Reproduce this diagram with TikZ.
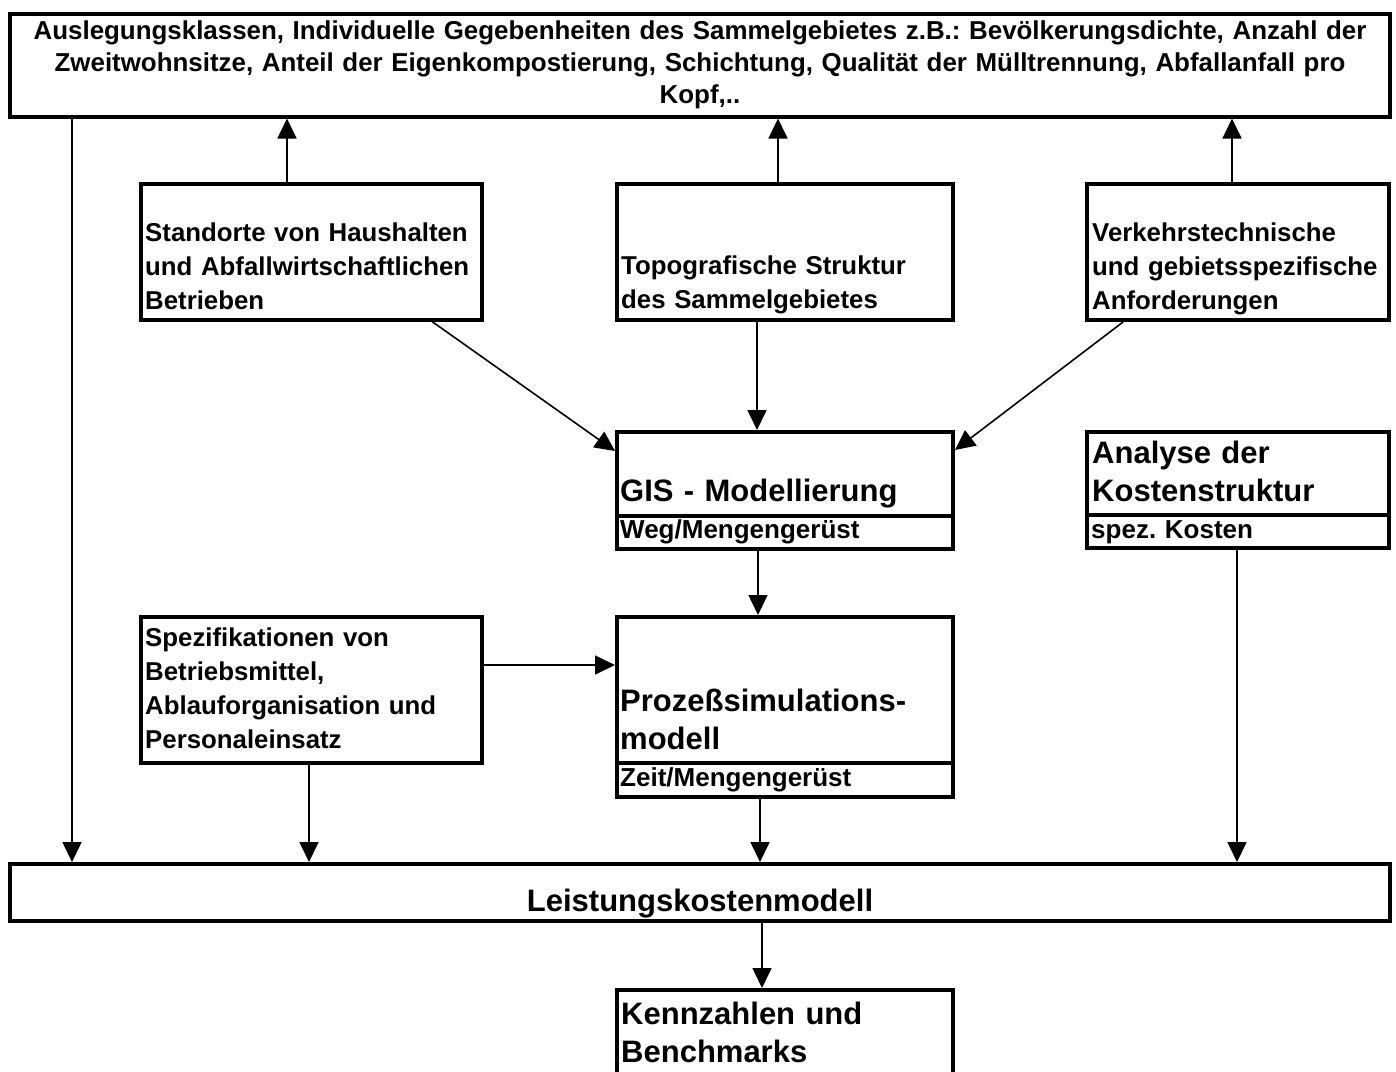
\documentclass[tikz,border=0pt]{standalone}
\usepackage{fontspec}
\setmainfont{Liberation Sans}
\usetikzlibrary{arrows.meta}
\frenchspacing
\begin{document}
\begin{tikzpicture}[x=1pt,y=-1pt,
  box/.style={draw, line width=4pt, inner sep=0pt, rectangle},
  divider/.style={line width=4pt},
  arr/.style={line width=1.6pt, -{Triangle[length=20pt,width=19pt]}},
  txt/.style={inner sep=0pt, anchor=base west, align=left, text width=#1},
  normal/.style={font=\fontsize{25.8}{34}\selectfont\bfseries},
  big/.style={font=\fontsize{31}{38}\selectfont\bfseries},
  small/.style={font=\fontsize{26}{30}\selectfont\bfseries}
]
\clip (0,0) rectangle (1396,1071);
\fill[white] (0,0) rectangle (1396,1071);

% boxes
\node[box, minimum width=1380.5pt, minimum height=102.5pt] (T) at (699.75,65.25) {};
\node[box, minimum width=341pt, minimum height=135.5pt] (A) at (311,251.75) {};
\node[box, minimum width=336pt, minimum height=136pt] (B) at (785,252) {};
\node[box, minimum width=302pt, minimum height=136pt] (C) at (1238,252) {};
\node[box, minimum width=336pt, minimum height=117pt] (G) at (785,490.5) {};
\node[box, minimum width=302pt, minimum height=116pt] (K) at (1238,490) {};
\node[box, minimum width=341pt, minimum height=146pt] (S) at (311,690) {};
\node[box, minimum width=336pt, minimum height=180pt] (P) at (785,707) {};
\node[box, minimum width=1380.5pt, minimum height=57pt] (L) at (699.75,892.5) {};
\node[box, minimum width=336pt, minimum height=110pt] (Z) at (785,1045) {};

% dividers
\draw[divider] (617,516) -- (953,516);
\draw[divider] (1087,515) -- (1389,515);
\draw[divider] (617,763) -- (953,763);

% texts
\node[inner sep=0pt, anchor=base, align=center, text width=1370pt,
  font=\fontsize{25.9}{32}\selectfont\bfseries] (tT) at (700,39)
  {Auslegungsklassen, Individuelle Gegebenheiten des Sammelgebietes z.B.: Bevölkerungsdichte, Anzahl der\\
   Zweitwohnsitze, Anteil der Eigenkompostierung, Schichtung, Qualität der Mülltrennung, Abfallanfall pro\\
   Kopf,..};
\node[txt=336pt, normal] (tA) at (145,241) {Standorte von Haushalten\\und Abfallwirtschaftlichen\\Betrieben};
\node[txt=330pt, normal] (tB) at (621,274) {Topografische Struktur\\des Sammelgebietes};
\node[txt=296pt, normal] (tC) at (1092,241) {Verkehrstechnische\\und gebietsspezifische\\Anforderungen};
\node[txt=330pt, big] (tG) at (620,501) {GIS - Modellierung};
\node[txt=330pt, small] (tG2) at (620,538) {Weg/Mengengerüst};
\node[txt=296pt, big] (tK) at (1092,463) {Analyse der\\Kostenstruktur};
\node[txt=296pt, small] (tK2) at (1091,538) {spez. Kosten};
\node[txt=336pt, normal] (tS) at (145,646) {Spezifikationen von\\Betriebsmittel,\\Ablauforganisation und\\Personaleinsatz};
\node[txt=330pt, big] (tP) at (620,711) {Prozeßsimulations-\\modell};
\node[txt=330pt, small] (tP2) at (620,786) {Zeit/Mengengerüst};
\node[inner sep=0pt, anchor=base, big] (tL) at (700,911) {Leistungskostenmodell};
\node[txt=330pt, big] (tZ) at (621,1024) {Kennzahlen und\\Benchmarks};

% column / row helpers
\coordinate (x72) at (72,0);
\coordinate (x287) at (287,0);
\coordinate (x309) at (309,0);
\coordinate (x757) at (757,0);
\coordinate (x758) at (758,0);
\coordinate (x760) at (760,0);
\coordinate (x762) at (762,0);
\coordinate (x778) at (778,0);
\coordinate (x1232) at (1232,0);
\coordinate (x1237) at (1237,0);
\coordinate (y665) at (0,665);

% connectors
\draw[arr] (A.north -| x287) -- (T.south -| x287);
\draw[arr] (B.north -| x778) -- (T.south -| x778);
\draw[arr] (C.north -| x1232) -- (T.south -| x1232);
\draw[arr] ([xshift=121pt]A.south) -- ([yshift=39.5pt]G.west);
\draw[arr] (B.south -| x757) -- (G.north -| x757);
\draw[arr] ([xshift=-115pt]C.south) -- ([yshift=40.5pt]G.east);
\draw[arr] (G.south -| x758) -- (P.north -| x758);
\draw[arr] (S.east |- y665) -- (P.west |- y665);
\draw[arr] (S.south -| x309) -- (L.north -| x309);
\draw[arr] (P.south -| x760) -- (L.north -| x760);
\draw[arr] (K.south -| x1237) -- (L.north -| x1237);
\draw[arr] (T.south -| x72) -- (L.north -| x72);
\draw[arr] (L.south -| x762) -- (Z.north -| x762);
\end{tikzpicture}
\end{document}
